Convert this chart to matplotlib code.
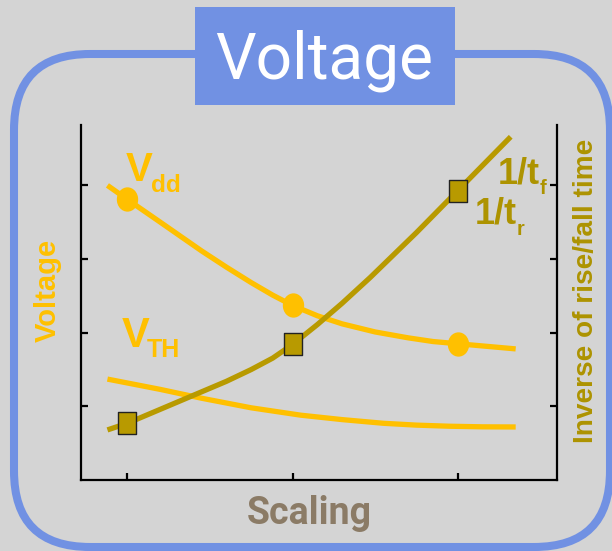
import matplotlib.pyplot as plt
from matplotlib import font_manager as fm
from matplotlib.patches import FancyBboxPatch, Rectangle
from matplotlib.path import Path
from matplotlib.transforms import Affine2D

# scaling steps along the x axis
scale = [1, 2, 3]
yticks = [1, 2, 3, 4]

# supply voltage, dots sit on the scaling steps
vdd_x = [0.88, 1.0, 1.2, 1.45, 1.6, 1.75, 1.88, 2.0, 2.15, 2.3, 2.5, 2.7, 2.85, 3.0, 3.2, 3.35]
vdd_y = [4.00, 3.81, 3.50, 3.11, 2.89, 2.68, 2.51, 2.37, 2.23, 2.12, 2.01, 1.93, 1.88, 1.85, 1.81, 1.78]
vdd_dots = [1, 7, 13]

# threshold voltage
vth_x = [0.88, 1.2, 1.45, 1.75, 2.05, 2.3, 2.55, 2.75, 2.95, 3.15, 3.35]
vth_y = [1.37, 1.23, 1.11, 0.98, 0.88, 0.82, 0.77, 0.745, 0.73, 0.722, 0.72]

# inverse of rise/fall time, squares on the scaling steps
inv_x = [0.88, 1.0, 1.2, 1.4, 1.6, 1.75, 1.88, 2.0, 2.15, 2.3, 2.47, 2.75, 3.0, 3.32]
inv_y = [0.68, 0.77, 0.96, 1.15, 1.34, 1.50, 1.655, 1.84, 2.11, 2.40, 2.75, 3.36, 3.93, 4.66]
inv_boxes = [1, 7, 12]

BG = '#d4d4d4'
BLUE = '#7191e3'
AMBER = '#ffc000'
GOLD = '#b89a00'
GOLD_TXT = '#ad9300'
BROWN = '#8b7b66'

W, H = 612, 551
fig = plt.figure(figsize=(W / 100, H / 100), dpi=100, facecolor=BG)

def fx(px):
    return px / W

def fy(py):
    return 1 - py / H

# tight bold text: regular bold face, shrunk to narrow width
def nprops(size):
    return fm.FontProperties(family='Liberation Sans', weight='bold', size=size * 0.84)

# frame + title box, drawn in pixel units
bg = fig.add_axes([0, 0, 1, 1])
bg.set_xlim(0, W)
bg.set_ylim(H, 0)
bg.axis('off')
bg.add_patch(FancyBboxPatch((14, 54), 596, 493,
                            boxstyle='round,pad=0,rounding_size=76',
                            fill=False, edgecolor=BLUE, lw=5.8))
bg.add_patch(Rectangle((195, 7), 260, 98, facecolor=BLUE, edgecolor='none'))
fig.text(fx(324), fy(79), 'Voltage', color='white', fontsize=46,
         family='Roboto', ha='center', va='baseline')

# chart
ax = fig.add_axes([fx(81), fy(480), fx(557) - fx(81), fy(125) - fy(480)])
ax.set_facecolor('none')
ax.set_xlim(0.72, 3.60)
ax.set_ylim(0, 4.82)
ax.set_xticks(scale)
ax.set_yticks(yticks)
ax.set_xticklabels([])
ax.set_yticklabels([])
ax.spines['top'].set_visible(False)
for s in ['left', 'bottom', 'right']:
    ax.spines[s].set_linewidth(1.6)
ax.tick_params(direction='in', length=5, width=1.6, color='black',
               left=True, right=True, bottom=True)

dot = Path.unit_circle().transformed(Affine2D().scale(0.87, 1))
box = Path([(-0.82, -1), (0.82, -1), (0.82, 1), (-0.82, 1), (-0.82, -1)],
           [Path.MOVETO, Path.LINETO, Path.LINETO, Path.LINETO, Path.CLOSEPOLY])

ax.plot(vdd_x, vdd_y, color=AMBER, lw=3.8, marker=dot, markevery=vdd_dots,
        ms=16.5, mfc=AMBER, mec=AMBER, solid_capstyle='butt', zorder=3)
ax.plot(vth_x, vth_y, color=AMBER, lw=3.8, solid_capstyle='butt', zorder=3)
ax.plot(inv_x, inv_y, color=GOLD, lw=3.8, marker=box, markevery=inv_boxes,
        ms=16, mfc=GOLD, mec='#222222', mew=1.0, solid_capstyle='butt', zorder=4)

# curve labels
sans = ['Liberation Sans', 'DejaVu Sans']
fig.text(fx(126), fy(181), 'V', color=AMBER, fontsize=29, weight='bold', family=sans, va='baseline')
fig.text(fx(151), fy(192), 'dd', color=AMBER, fontproperties=nprops(21), va='baseline')
fig.text(fx(122), fy(347), 'V', color=AMBER, fontsize=30, weight='bold', family=sans, va='baseline')
fig.text(fx(147), fy(357), 'TH', color=AMBER, fontsize=18, weight='bold', family=sans, va='baseline')
fig.text(fx(498), fy(183), '1/t', color=GOLD_TXT, fontproperties=nprops(31), va='baseline')
fig.text(fx(540), fy(194), 'f', color=GOLD_TXT, fontproperties=nprops(17), va='baseline')
fig.text(fx(475), fy(223), '1/t', color=GOLD_TXT, fontproperties=nprops(31), va='baseline')
fig.text(fx(517), fy(235), 'r', color=GOLD_TXT, fontproperties=nprops(17), va='baseline')

# axis titles
fig.text(fx(48), fy(290), 'Voltage', color=AMBER, fontproperties=nprops(25),
         rotation=90, ha='center', va='center')
fig.text(fx(586), fy(291), 'Inverse of rise/fall time', color=GOLD_TXT,
         fontproperties=nprops(24), rotation=90, ha='center', va='center')
fig.text(fx(309), fy(524), 'Scaling', color=BROWN, fontsize=27, weight='bold',
         family='Roboto', ha='center', va='baseline')

fig.savefig('out.png', dpi=100, facecolor=BG)
